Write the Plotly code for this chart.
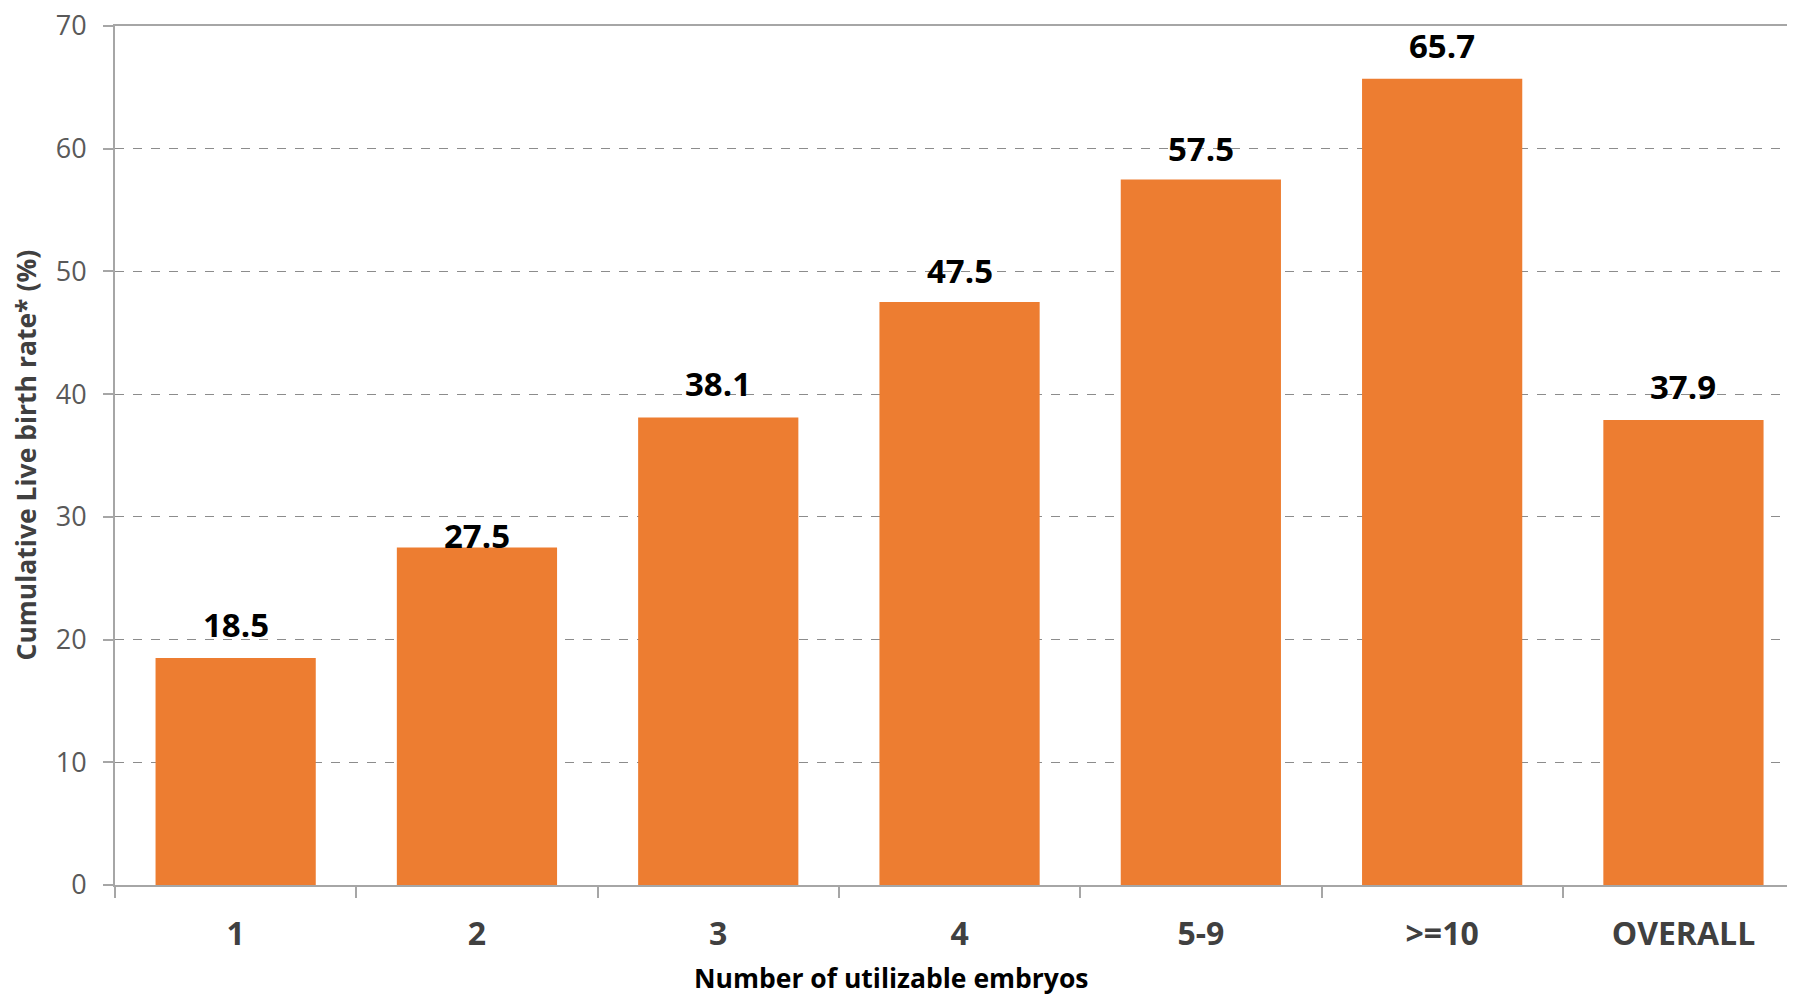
import plotly.graph_objects as go

categories = ["1", "2", "3", "4", "5-9", ">=10", "OVERALL"]
values = [18.5, 27.5, 38.1, 47.5, 57.5, 65.7, 37.9]
value_labels = ["18.5", "27.5", "38.1", "47.5", "57.5", "65.7", "37.9"]
y_ticks = [0, 10, 20, 30, 40, 50, 60, 70]

# label vertical offset (px above bar top)
label_shift = [33, 12, 34, 32, 31, 33, 33]

FONT = "Open Sans"
BAR = "#ED7D31"

# the page body has an 8px default margin; compensate
OFF = 8
W, H = 1795 - OFF, 995 - OFF
L = 115 - OFF
T = 26 - OFF
B = H - (885.5 - OFF)
PW = W - L

fig = go.Figure()
fig.add_trace(go.Bar(
    x=categories, y=values,
    marker=dict(color=BAR, line=dict(width=0)),
    hoverinfo="skip",
))

for i, (v, t, s) in enumerate(zip(values, value_labels, label_shift)):
    fig.add_annotation(
        x=i, y=v, text=t, showarrow=False, yanchor="middle", xanchor="center",
        yshift=s, font=dict(family=FONT, size=33, color="#000000", weight="bold"),
    )

fig.add_annotation(
    xref="paper", yref="paper", x=(891 - 115) / PW, y=0.0,
    yshift=-93, text="Number of utilizable embryos", showarrow=False,
    xanchor="center", yanchor="middle",
    font=dict(family=FONT, size=26.5, color="#000000", weight="bold"),
)
fig.add_annotation(
    xref="paper", yref="paper", x=(25 - 115) / PW, y=0.5,
    text="Cumulative Live birth rate* (%)", showarrow=False, textangle=-90,
    xanchor="center", yanchor="middle",
    font=dict(family=FONT, size=26.5, color="#404040", weight="bold"),
)

fig.update_layout(
    width=W, height=H,
    margin=dict(l=L, r=0, t=T, b=B, pad=0, autoexpand=False),
    paper_bgcolor="white", plot_bgcolor="white",
    bargap=0.336, showlegend=False,
    xaxis=dict(
        type="category", range=[-0.5, -0.5 + PW / 241.3],
        showline=True, linecolor="#A6A6A6", linewidth=2, mirror=True,
        ticks="outside", tickson="boundaries", ticklen=11, tickcolor="#A6A6A6", tickwidth=1.5,
        showgrid=False, zeroline=False,
        tickfont=dict(family=FONT, size=32, color="#404040", weight="bold"),
        ticklabelstandoff=20,
    ),
    yaxis=dict(
        range=[0, 70], tickvals=y_ticks,
        showline=True, linecolor="#A6A6A6", linewidth=2,
        ticks="outside", ticklen=10, tickcolor="#A6A6A6", tickwidth=1.5,
        showgrid=True, gridcolor="#8C8C8C", griddash="dash", gridwidth=1,
        zeroline=False, ticklabeloverflow="allow",
        tickfont=dict(family=FONT, size=27, color="#595959"),
        ticklabelstandoff=11,
    ),
)

fig.write_html("out.html")
